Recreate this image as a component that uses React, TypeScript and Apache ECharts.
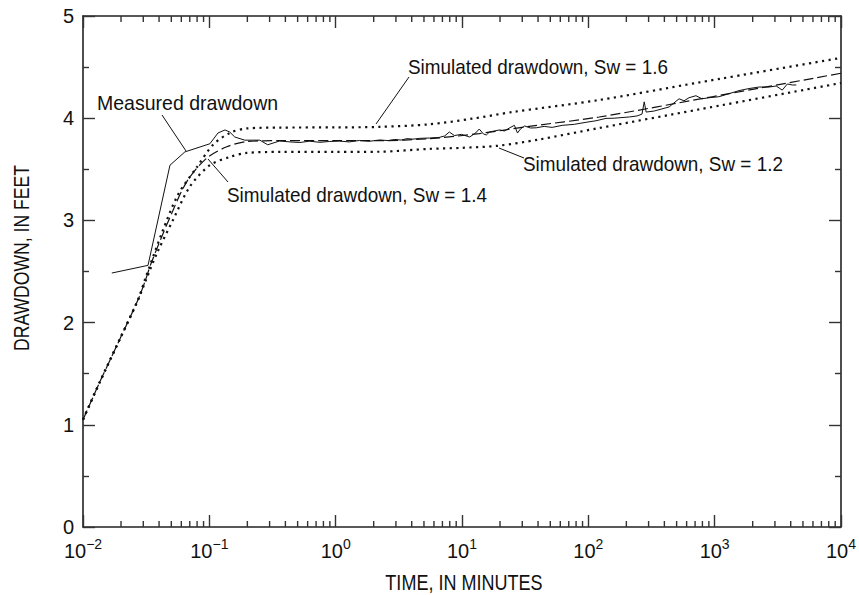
import React, { useEffect, useRef } from "react";
import * as echarts from "echarts";

const FONT = '"Liberation Sans", Arial, sans-serif';

// Axis tick labels (exponents of 10)
const xTickExponents = ["−2", "−1", "0", "1", "2", "3", "4"];
const yTickLabels = ["0", "1", "2", "3", "4", "5"];
const minorDecades = [0.01, 0.1, 1, 10, 100, 1000];
const minorMultipliers = [2, 3, 4, 5, 6, 7, 8, 9];

// Measured drawdown
const measuredTime = [
  0.0169, 0.0327, 0.0488, 0.064, 0.101, 0.117, 0.133, 0.145, 0.159, 0.191, 0.251, 0.29, 0.36,
  0.435, 0.52, 0.62, 0.75, 0.89, 1.07, 1.28, 1.54, 1.85, 2.23, 2.6, 2.94, 3.3, 3.67, 4.1, 4.63,
  5.53, 6.6, 7.28, 7.95, 8.7, 9.9, 11.5, 12.8, 13.7, 14.8, 15.6, 16.5, 19.8, 21.7, 23.7, 26,
  27.5, 29, 31.3, 34.9, 38.7, 44.7, 51.7, 62.1, 77.3, 96, 115, 138, 160, 211, 243, 266, 277,
  287, 332, 436, 477, 523, 572, 626, 711, 793, 900, 1080, 1300, 1560, 1870, 2250, 2700, 3070,
  3430, 3760, 4120, 4430,
];
const measuredDrawdown = [
  2.485, 2.56, 3.54, 3.67, 3.75, 3.855, 3.885, 3.865, 3.816, 3.785, 3.785, 3.74, 3.777,
  3.768, 3.762, 3.775, 3.764, 3.772, 3.776, 3.768, 3.782, 3.774, 3.787, 3.781, 3.792, 3.786, 3.8, 3.795, 3.803,
  3.806, 3.812, 3.826, 3.865, 3.83, 3.842, 3.816, 3.855, 3.894, 3.845, 3.836, 3.865, 3.885, 3.875, 3.904, 3.93,
  3.855, 3.894, 3.924, 3.904, 3.906, 3.92, 3.91, 3.93, 3.94, 3.96, 3.975, 3.998, 4.0, 4.012, 4.022, 4.04, 4.16,
  4.06, 4.07, 4.11, 4.15, 4.19, 4.17, 4.2, 4.22, 4.19, 4.2, 4.21, 4.24, 4.27, 4.29, 4.305, 4.305, 4.315,
  4.275, 4.335, 4.325, 4.325,
];

// Simulated drawdown, Sw = 1.6
const sw16Time = [0.01, 0.0136, 0.0196, 0.0272, 0.0309, 0.0422, 0.0564, 0.0796, 0.107, 0.145, 0.198, 0.36, 1, 2.23, 5.5, 12, 25, 122, 754, 10000];
const sw16Drawdown = [1.05, 1.42, 1.84, 2.22, 2.42, 2.88, 3.25, 3.52, 3.74, 3.855, 3.9, 3.908, 3.91, 3.915, 3.94, 3.995, 4.06, 4.178, 4.35, 4.59];

// Simulated drawdown, Sw = 1.4
const sw14Time = [0.01, 0.0136, 0.0196, 0.0272, 0.0309, 0.0351, 0.0488, 0.0664, 0.0955, 0.1375, 0.198, 0.36, 1, 2.23, 5.53, 13.7, 34, 122, 955, 10000];
const sw14Drawdown = [1.05, 1.42, 1.84, 2.22, 2.4, 2.6, 3.03, 3.38, 3.61, 3.72, 3.772, 3.78, 3.78, 3.78, 3.8, 3.85, 3.92, 4.012, 4.21, 4.44];

// Simulated drawdown, Sw = 1.2
const sw12Time = [0.01, 0.0136, 0.0196, 0.0272, 0.0309, 0.0385, 0.0514, 0.0701, 0.101, 0.145, 0.198, 0.36, 1, 2.23, 5.53, 10, 19.1, 40, 122, 754, 10000];
const sw12Drawdown = [1.05, 1.42, 1.84, 2.22, 2.39, 2.68, 3.0, 3.33, 3.54, 3.62, 3.66, 3.67, 3.67, 3.672, 3.7, 3.71, 3.73, 3.79, 3.904, 4.086, 4.344];

const zip = (a: number[], b: number[]) => a.map((v, i) => [v, b[i]]);

export default function App() {
  const ref = useRef<HTMLDivElement>(null);
  useEffect(() => {
    if (!ref.current) return;
    const chart = echarts.init(ref.current, null, { renderer: "svg" });
    const minorTicks: number[][] = [];
    minorDecades.forEach((d) => minorMultipliers.forEach((m) => minorTicks.push([d * m, 0])));
    const ink = "#111";
    const tickStyle = { color: "#333", width: 1.4 };
    const axisLineStyle = { color: "#222", width: 1.6 };
    const dotted = { color: ink, width: 2.2, type: [2.2, 4.4] as any, cap: "butt" as any };
    const annot = (text: string, x: number, y: number, sx: number) => ({
      type: "text",
      x,
      y,
      scaleX: sx,
      style: { text, fontFamily: FONT, fontSize: 21, fill: ink, textVerticalAlign: "middle" },
    });

    chart.setOption({
      animation: false,
      backgroundColor: "#fff",
      grid: { left: 83, right: 17, top: 16, bottom: 68 },
      xAxis: [
        {
          type: "log",
          logBase: 10,
          min: 0.01,
          max: 10000,
          position: "bottom",
          axisLine: { show: true, onZero: false, lineStyle: axisLineStyle },
          axisTick: { show: true, inside: true, length: 12, lineStyle: tickStyle },
          splitLine: { show: false },
          axisLabel: {
            margin: 10,
            formatter: (v: number) => {
              const e = Math.round(Math.log10(v));
              return "{b|10}{s|" + xTickExponents[e + 2] + "}";
            },
            rich: {
              b: { fontFamily: FONT, fontSize: 20, color: ink, lineHeight: 24, verticalAlign: "bottom" },
              s: { fontFamily: FONT, fontSize: 14, color: ink, lineHeight: 14, verticalAlign: "top" },
            },
          },
        },
        {
          type: "log",
          logBase: 10,
          min: 0.01,
          max: 10000,
          position: "top",
          axisLine: { show: true, onZero: false, lineStyle: axisLineStyle },
          axisTick: { show: true, inside: true, length: 12, lineStyle: tickStyle },
          axisLabel: { show: false },
          splitLine: { show: false },
        },
      ],
      yAxis: [
        {
          type: "value",
          min: 0,
          max: 5,
          interval: 1,
          position: "left",
          axisLine: { show: true, onZero: false, lineStyle: axisLineStyle },
          axisTick: { show: true, inside: true, length: 12, lineStyle: tickStyle },
          minorTick: { show: true, splitNumber: 2, length: 6, lineStyle: tickStyle },
          splitLine: { show: false },
          axisLabel: {
            margin: 9,
            fontFamily: FONT,
            fontSize: 20,
            color: ink,
            formatter: (v: number) => yTickLabels[Math.round(v)],
          },
        },
        {
          type: "value",
          min: 0,
          max: 5,
          interval: 1,
          position: "right",
          axisLine: { show: true, onZero: false, lineStyle: axisLineStyle },
          axisTick: { show: true, inside: true, length: 12, lineStyle: tickStyle },
          minorTick: { show: true, splitNumber: 2, length: 6, lineStyle: tickStyle },
          splitLine: { show: false },
          axisLabel: { show: false },
        },
      ],
      series: [
        {
          name: "Minor ticks",
          type: "custom",
          xAxisIndex: 0,
          yAxisIndex: 0,
          silent: true,
          clip: false,
          data: minorTicks,
          encode: { x: 0, y: 1 },
          renderItem: (params: any, api: any) => {
            const t = api.value(0);
            const b = api.coord([t, 0]);
            const tp = api.coord([t, 5]);
            return {
              type: "group",
              children: [
                { type: "line", shape: { x1: b[0], y1: b[1], x2: b[0], y2: b[1] - 6 }, style: { stroke: "#333", lineWidth: 1.4 } },
                { type: "line", shape: { x1: tp[0], y1: tp[1], x2: tp[0], y2: tp[1] + 6 }, style: { stroke: "#333", lineWidth: 1.4 } },
              ],
            };
          },
        },
        {
          name: "Simulated drawdown, Sw = 1.6",
          type: "line",
          data: zip(sw16Time, sw16Drawdown),
          showSymbol: false,
          smooth: 0.3,
          lineStyle: dotted,
        },
        {
          name: "Simulated drawdown, Sw = 1.2",
          type: "line",
          data: zip(sw12Time, sw12Drawdown),
          showSymbol: false,
          smooth: 0.3,
          lineStyle: dotted,
        },
        {
          name: "Simulated drawdown, Sw = 1.4",
          type: "line",
          data: zip(sw14Time, sw14Drawdown),
          showSymbol: false,
          smooth: 0.3,
          lineStyle: { color: ink, width: 1.2, type: [10, 4] },
        },
        {
          name: "Measured drawdown",
          type: "line",
          data: zip(measuredTime, measuredDrawdown),
          showSymbol: false,
          lineStyle: { color: ink, width: 1 },
        },
      ],
      graphic: [
        {
          type: "text",
          x: 464,
          y: 582,
          scaleX: 0.82,
          style: { text: "TIME, IN MINUTES", fontFamily: FONT, fontSize: 22, fill: ink, textAlign: "center", textVerticalAlign: "middle" },
        },
        {
          type: "text",
          x: 21,
          y: 258,
          rotation: Math.PI / 2,
          scaleX: 0.8,
          style: { text: "DRAWDOWN, IN FEET", fontFamily: FONT, fontSize: 22, fill: ink, textAlign: "center", textVerticalAlign: "middle" },
        },
        annot("Measured drawdown", 97, 103, 0.93),
        { type: "line", shape: { x1: 162, y1: 115, x2: 186, y2: 151 }, style: { stroke: ink, lineWidth: 1 } },
        annot("Simulated drawdown, Sw = 1.6", 408, 67, 0.9),
        { type: "line", shape: { x1: 409, y1: 77, x2: 376, y2: 124 }, style: { stroke: ink, lineWidth: 1 } },
        annot("Simulated drawdown, Sw = 1.2", 523, 164, 0.9),
        { type: "line", shape: { x1: 499, y1: 148, x2: 524, y2: 158 }, style: { stroke: ink, lineWidth: 1 } },
        annot("Simulated drawdown, Sw = 1.4", 227, 195, 0.9),
        { type: "line", shape: { x1: 208, y1: 159, x2: 228, y2: 182 }, style: { stroke: ink, lineWidth: 1 } },
      ],
    });
    return () => chart.dispose();
  }, []);
  return <div ref={ref} style={{ position: "fixed", left: 0, top: 0, width: 859, height: 595 }} />;
}
